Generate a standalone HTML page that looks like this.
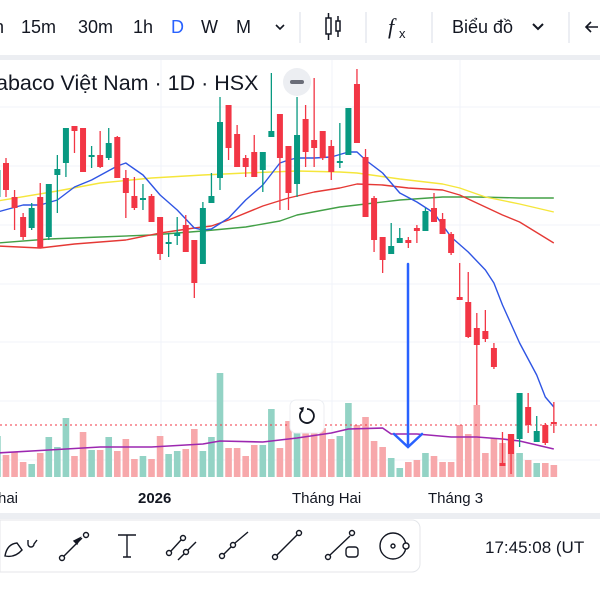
<!DOCTYPE html>
<html><head><meta charset="utf-8">
<style>
html,body{margin:0;padding:0;width:600px;height:600px;overflow:hidden;background:#fff;font-family:"Liberation Sans","Noto Sans CJK SC",sans-serif;color:#131722}
svg{display:block}
</style></head>
<body>
<svg id="root" width="600" height="600" viewBox="0 0 600 600" xmlns="http://www.w3.org/2000/svg">
  <!-- top toolbar -->
  <g>
    <rect x="0" y="0" width="600" height="55" fill="#fff"/>
    <rect x="0" y="55" width="600" height="5" fill="#eceef2"/>
    <g font-size="18" fill="#131722">
      <text x="-6" y="33">n</text>
      <text x="21" y="33">15m</text>
      <text x="78" y="33">30m</text>
      <text x="133" y="33">1h</text>
      <text x="171" y="33" fill="#2962ff">D</text>
      <text x="201" y="33">W</text>
      <text x="236" y="33">M</text>
      <text x="452" y="33">Biểu đồ</text>
    </g>
    <path d="M276 25 l4 4 l4 -4" stroke="#131722" stroke-width="1.6" fill="none"/>
    <path d="M533 24 l5 5 l5 -5" stroke="#131722" stroke-width="2" fill="none"/>
    <g stroke="#e0e3eb" stroke-width="1.2">
      <line x1="300" y1="12" x2="300" y2="43"/><line x1="366" y1="12" x2="366" y2="43"/>
      <line x1="432" y1="12" x2="432" y2="43"/><line x1="569" y1="12" x2="569" y2="43"/>
    </g>
    <g stroke="#131722" stroke-width="1.5" fill="none">
      <rect x="326" y="18" width="5" height="16"/><line x1="328.5" y1="13" x2="328.5" y2="18"/><line x1="328.5" y1="34" x2="328.5" y2="40"/>
      <rect x="336" y="21" width="4" height="10"/><line x1="338" y1="16" x2="338" y2="21"/><line x1="338" y1="31" x2="338" y2="37"/>
    </g>
    <g>
      <text x="388" y="34" font-size="22" font-family="Liberation Serif, serif" font-style="italic" fill="#131722">f</text>
      <text x="399" y="38" font-size="13" fill="#131722">x</text>
    </g>
    <path d="M598 27 h-12 m5 -5 l-5 5 l5 5" stroke="#131722" stroke-width="1.6" fill="none"/>
  </g>

  <!-- chart pane -->
  <g>
    <g stroke="#f0f3fa" stroke-width="1">
      <line x1="0" y1="107" x2="600" y2="107"/><line x1="0" y1="166" x2="600" y2="166"/>
      <line x1="0" y1="225" x2="600" y2="225"/><line x1="0" y1="284" x2="600" y2="284"/>
      <line x1="0" y1="342" x2="600" y2="342"/><line x1="0" y1="401" x2="600" y2="401"/>
      <line x1="0" y1="460" x2="600" y2="460"/>
      <line x1="161" y1="60" x2="161" y2="478"/><line x1="332" y1="60" x2="332" y2="478"/>
      <line x1="460" y1="60" x2="460" y2="478"/>
    </g>
    <g id="vol"></g>
    <g id="volma"></g>
    <line x1="0" y1="425" x2="600" y2="425" stroke="#f23645" stroke-width="1" stroke-dasharray="2,3"/>
    <g id="mas"></g>
    <g id="candles"></g>
    <text x="-4" y="90" font-size="21.5" fill="#131722">abaco Việt Nam · 1D · HSX</text>
    <g>
      <circle cx="297" cy="82" r="14" fill="#eceef2"/>
      <rect x="290" y="80" width="14" height="4" rx="2" fill="#6a6d78"/>
    </g>
    <g stroke="#2962ff" stroke-width="2.5" fill="none" stroke-linecap="round">
      <line x1="408" y1="264" x2="408" y2="446"/>
      <path d="M394 434 L408 447 L422 434"/>
    </g>
    <g>
      <rect x="290" y="400" width="34" height="33" rx="6" fill="#fff" stroke="#eceef2"/>
      <path d="M302 411 A7 7 0 1 0 307 409" stroke="#131722" stroke-width="1.8" fill="none"/>
      <path d="M299 408 l4 4 l1 -5 z" fill="#131722"/>
    </g>
  </g>

  <!-- time axis -->
  <g font-size="15" fill="#131722">
    <text x="-2" y="503">hai</text>
    <text x="138" y="503" font-weight="bold">2026</text>
    <text x="292" y="503">Tháng Hai</text>
    <text x="428" y="503">Tháng 3</text>
  </g>
  <rect x="0" y="513" width="600" height="6" fill="#eceef2"/>

  <!-- drawing toolbar -->
  <g>
    <path d="M0 520 H412 a8 8 0 0 1 8 8 V564 a8 8 0 0 1 -8 8 H0 Z" fill="#fff" stroke="#e4e6ea"/>
    <g stroke="#131722" stroke-width="1.4" fill="none">
      <g><path d="M5 556 q2 -12 12 -13 l5 7 q-7 8 -17 6 z"/><path d="M28 540 v4 a3 3 0 0 0 6 0 l3 -4"/></g>
      <g><circle cx="62" cy="558" r="2.5"/><line x1="64" y1="556" x2="82" y2="538"/><circle cx="86" cy="535" r="2.5"/><path d="M74 541 l6 -3 l-3 6 z" fill="#131722"/></g>
      <g><path d="M118 535 h18 m-9 0 v22 m-4 0 h8"/></g>
      <g><circle cx="169" cy="553" r="2.5"/><line x1="171" y1="551" x2="181" y2="540"/><circle cx="183" cy="538" r="2.5"/><circle cx="186" cy="552" r="2.5"/><line x1="178" y1="560" x2="184" y2="554"/><line x1="188" y1="550" x2="196" y2="542"/></g>
      <g><circle cx="222" cy="556" r="2.5"/><line x1="224" y1="554" x2="231" y2="547"/><circle cx="233" cy="545" r="2.5"/><line x1="235" y1="543" x2="248" y2="532"/></g>
      <g><circle cx="275" cy="557" r="2.5"/><line x1="277" y1="555" x2="297" y2="535"/><circle cx="299" cy="533" r="2.5"/></g>
      <g><circle cx="328" cy="557" r="2.5"/><line x1="330" y1="555" x2="350" y2="536"/><circle cx="352" cy="533" r="2.5"/><rect x="346" y="547" width="12" height="10" rx="3"/></g>
      <g><circle cx="393" cy="546" r="13"/><circle cx="393" cy="546" r="2"/><circle cx="406" cy="546" r="3" fill="#fff"/></g>
    </g>
    <text x="485" y="553" font-size="17" fill="#131722">17:45:08 (UT</text>
  </g>
</svg>
<script>
// ---- chart data (price units: higher = higher price) ----
const candleOpen  = [303,337,303,283,272,303,263,325,337,374,372,343,345,342,363,322,304,300,304,283,256,264,275,260,236,297,322,395,366,342,348,330,363,386,354,316,381,360,369,354,337,345,416,343,302,263,246,257,260,272,269,292,281,266,203,198,172,169,152,37,66,61,93,58,75,78];
const candleHigh  = [332,342,310,287,297,317,316,345,372,374,372,354,369,372,364,330,323,316,306,283,267,283,285,260,298,327,403,395,375,345,365,348,427,386,354,403,395,422,369,360,377,392,431,351,304,263,277,272,263,275,292,307,287,268,237,228,187,190,157,68,66,107,107,84,77,98];
const candleLow   = [300,303,270,260,270,252,260,287,323,347,328,332,332,340,322,282,290,290,278,240,243,255,248,202,236,297,310,340,333,323,323,308,363,290,290,303,333,333,340,320,332,345,357,283,248,227,246,257,252,257,269,278,266,245,200,162,95,158,131,34,26,53,67,58,55,67];
const candleClose = [330,310,292,263,292,252,316,331,372,369,328,345,333,357,322,307,292,302,278,246,258,267,248,217,292,304,378,352,333,333,323,348,369,342,307,365,348,352,342,328,339,392,357,283,260,240,254,262,257,269,289,278,266,247,200,163,155,161,133,34,46,107,75,69,57,76];
const volumes     = [41,22,25,15,13,24,40,30,59,21,45,27,27,40,26,38,18,21,18,41,23,26,28,48,26,40,104,29,29,21,32,32,68,29,56,44,57,47,49,38,41,74,52,60,36,30,19,9,15,17,24,21,15,15,52,43,72,24,39,34,43,24,17,14,14,12];
// moving averages: [candle index] -> value
const maBlueIdx   = [0,3,5,7,9,11,14,15,17,19,21,23,24,25,27,29,31,33,34,35,37,39,41,42,43,45,47,49,51,53,55,57,58,59,61,63,64,65];
const maBlue      = [288,295,295,300,313,320,334,337,325,305,290,272,270,271,282,300,315,337,340,342,342,343,348,348,340,327,307,298,287,263,248,230,217,195,157,125,103,93];
const maYellowIdx = [0,7,12,18,24,29,35,40,42,47,52,54,57,61,65];
const maYellow    = [299,309,317,322,325,327,329,328,327,321,316,312,303,296,288];
const maRedIdx    = [0,5,9,15,19,23,25,27,31,34,37,40,42,45,48,52,54,56,59,61,65];
const maRed       = [254,252,256,260,267,272,274,280,294,302,308,312,316,315,312,310,305,297,285,278,257];
const maGreenIdx  = [0,6,12,18,24,29,33,35,40,42,47,52,56,61,65];
const maGreen     = [257,261,263,265,269,273,279,285,293,295,300,303,303,302,302];
const volMaIdx    = [0,6,12,18,24,26,31,35,39,41,45,46,49,53,56,59,61,63,65];
const volMa       = [24,27,30,30,33,36,35,39,44,48,49,43,43,40,40,38,36,32,28];

// ---- axis functions ----
const xOf = i => -2.56 + 8.56 * i;
const yP = p => 500 - p;
const yV = v => 477 - v;
const NS = 'http://www.w3.org/2000/svg';
function mk(tag, attrs, parent){const e=document.createElementNS(NS,tag);for(const k in attrs)e.setAttribute(k,attrs[k]);parent.appendChild(e);return e;}

const gVol = document.getElementById('vol');
volumes.forEach((v,i)=>{
  const up = candleClose[i] >= candleOpen[i];
  const r = mk('rect',{x:xOf(i)-3.3,y:yV(v),width:6.6,height:v,fill:up?'#93d3c5':'#f7a8ab'},gVol);
  
  
});

function line(idx, vals, yf, color, w, parent, name){
  const pts = idx.map((ix,k)=>xOf(ix).toFixed(1)+','+yf(vals[k]).toFixed(1)).join(' ');
  const p = mk('polyline',{points:pts,fill:'none',stroke:color,'stroke-width':w,'stroke-linejoin':'round'},parent);
  
  
}
line(volMaIdx, volMa, yV, '#9c27b0', 1.6, document.getElementById('volma'), 'volume-ma-line');
const gMa = document.getElementById('mas');
line(maGreenIdx, maGreen, yP, '#43a047', 1.4, gMa, 'ma-green-line');
line(maRedIdx, maRed, yP, '#e53935', 1.4, gMa, 'ma-red-line');
line(maYellowIdx, maYellow, yP, '#f5e63b', 1.4, gMa, 'ma-yellow-line');
line(maBlueIdx, maBlue, yP, '#2f55e4', 1.4, gMa, 'ma-blue-line');

const gC = document.getElementById('candles');
candleOpen.forEach((o,i)=>{
  const c = candleClose[i], up = c >= o, col = up ? '#089981' : '#f23645';
  const g = mk('g',{},gC);
  
  
  const x = xOf(i);
  mk('line',{x1:x,x2:x,y1:yP(candleHigh[i]),y2:yP(candleLow[i]),stroke:col,'stroke-width':1.3},g);
  const top = yP(Math.max(o,c)), h = Math.max(1.5, Math.abs(o-c));
  mk('rect',{x:x-3,y:top,width:6,height:h,fill:col},g);
});
</script>
</body></html>
